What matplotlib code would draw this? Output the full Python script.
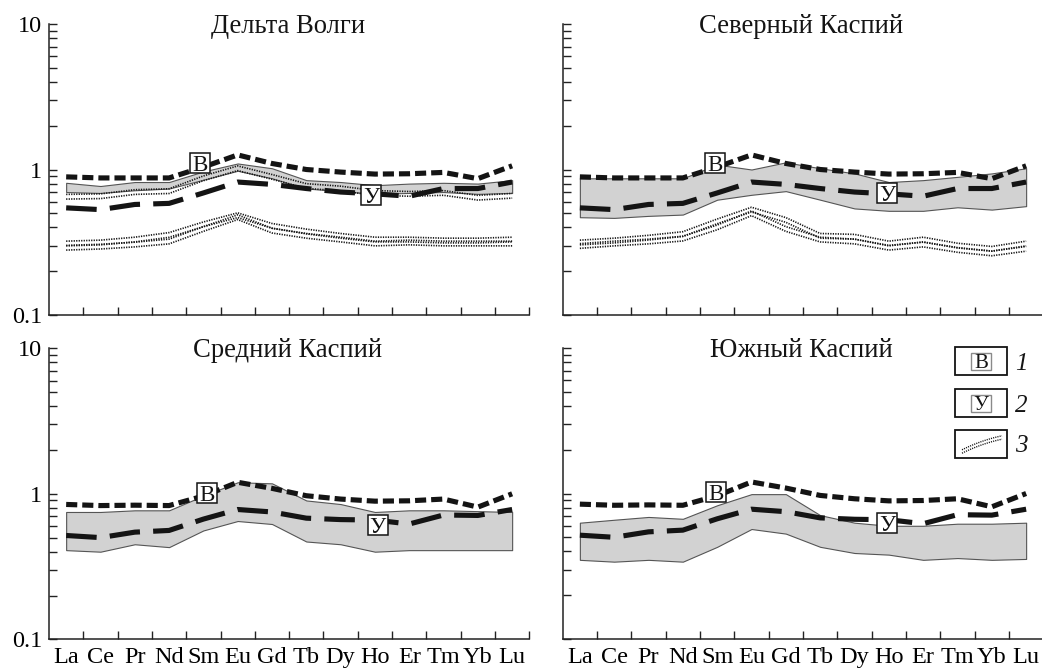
import numpy as np
import matplotlib
matplotlib.use('Agg')
import matplotlib.pyplot as plt
from matplotlib.ticker import FixedLocator, NullFormatter
from matplotlib.patches import Rectangle
from matplotlib.lines import Line2D

plt.rcParams['font.family'] = ['Liberation Serif', 'DejaVu Serif']
plt.rcParams['lines.scale_dashes'] = False

# ---------------- data ----------------
elements = ['La', 'Ce', 'Pr', 'Nd', 'Sm', 'Eu', 'Gd', 'Tb', 'Dy', 'Ho', 'Er', 'Tm', 'Yb', 'Lu']
titles = ['Дельта Волги', 'Северный Каспий', 'Средний Каспий', 'Южный Каспий']

# reference line "В" (upper row / lower row panels)
v_top = [0.89, 0.875, 0.875, 0.875, 1.04, 1.26, 1.10, 1.00, 0.96, 0.93, 0.935, 0.955, 0.865, 1.06]
v_bot = [0.845, 0.83, 0.835, 0.83, 0.965, 1.20, 1.09, 0.97, 0.92, 0.89, 0.895, 0.92, 0.81, 1.00]
# reference line "У"
u_top = [0.545, 0.53, 0.575, 0.585, 0.69, 0.82, 0.79, 0.74, 0.70, 0.68, 0.655, 0.74, 0.74, 0.82]
u_bot = [0.517, 0.50, 0.545, 0.56, 0.67, 0.78, 0.75, 0.68, 0.665, 0.66, 0.62, 0.715, 0.71, 0.78]

# grey ranges (lower, upper) per panel
band1_lo = [0.70, 0.69, 0.72, 0.74, 0.85, 0.98, 0.87, 0.74, 0.71, 0.68, 0.69, 0.70, 0.68, 0.69]
band1_hi = [0.81, 0.77, 0.82, 0.82, 0.97, 1.10, 1.02, 0.845, 0.82, 0.78, 0.80, 0.81, 0.80, 0.845]
band2_lo = [0.47, 0.465, 0.48, 0.49, 0.62, 0.67, 0.71, 0.62, 0.54, 0.52, 0.52, 0.55, 0.53, 0.56]
band2_hi = [0.87, 0.87, 0.87, 0.87, 1.08, 1.00, 1.12, 1.02, 0.94, 0.82, 0.845, 0.89, 0.94, 1.02]
band3_lo = [0.41, 0.40, 0.45, 0.43, 0.56, 0.65, 0.62, 0.47, 0.45, 0.40, 0.41, 0.41, 0.41, 0.41]
band3_hi = [0.75, 0.75, 0.77, 0.77, 0.97, 1.20, 1.18, 0.90, 0.85, 0.75, 0.77, 0.77, 0.76, 0.75]
band4_lo = [0.35, 0.34, 0.35, 0.34, 0.43, 0.57, 0.53, 0.43, 0.39, 0.38, 0.35, 0.36, 0.35, 0.355]
band4_hi = [0.63, 0.66, 0.69, 0.67, 0.83, 0.99, 0.99, 0.71, 0.63, 0.60, 0.60, 0.62, 0.62, 0.63]

# dotted "tubes" (item 3), centre lines
tube1_up = [0.65, 0.655, 0.70, 0.71, 0.87, 1.02, 0.89, 0.77, 0.74, 0.69, 0.68, 0.69, 0.64, 0.66]
tube1_a = [0.31, 0.315, 0.33, 0.355, 0.42, 0.485, 0.41, 0.375, 0.35, 0.33, 0.33, 0.325, 0.325, 0.33]
tube1_b = [0.29, 0.295, 0.305, 0.32, 0.39, 0.47, 0.38, 0.35, 0.33, 0.31, 0.315, 0.31, 0.31, 0.31]
tube2_a = [0.315, 0.325, 0.34, 0.36, 0.44, 0.53, 0.45, 0.35, 0.345, 0.31, 0.33, 0.30, 0.285, 0.31]
tube2_b = [0.298, 0.31, 0.32, 0.335, 0.40, 0.50, 0.39, 0.33, 0.32, 0.29, 0.305, 0.28, 0.265, 0.285]

# label positions (element index, value)
tag_v = [(3.9, 1.10), (3.93, 1.11), (4.1, 1.01), (3.96, 1.02)]
tag_u = [(8.9, 0.666), (8.96, 0.684), (9.08, 0.615), (8.96, 0.63)]

# ---------------- figure ----------------
W, H = 1042, 669
fig = plt.figure(figsize=(W / 100, H / 100), dpi=100)


def add_ax(left, top, right, bottom):
    return fig.add_axes([left / W, 1 - bottom / H, (right - left) / W, (bottom - top) / H])


boxes = [(49, 24, 529.3, 315), (562.7, 24, 1043.3, 315),
         (49, 348.3, 529.3, 639.3), (562.7, 348, 1043.3, 639)]
axes = [add_ax(*b) for b in boxes]

x = np.arange(len(elements))
INK = '#141414'


def tube(ax, c, k=1.038):
    c = np.asarray(c)
    for f in (k, 1 / k):
        ax.plot(x, c * f, color=INK, lw=1.2, dashes=(0.9, 0.9), zorder=3)


def tag(ax, pos, s):
    ax.plot([pos[0]], [pos[1]], marker='s', ms=14.8, mfc='white', mec=INK, mew=1.1, zorder=6)
    ax.text(pos[0], pos[1], s, ha='center', va='center_baseline', fontsize=16.5, zorder=7, color=INK)


bands = [(band1_lo, band1_hi), (band2_lo, band2_hi), (band3_lo, band3_hi), (band4_lo, band4_hi)]
vlines = [v_top, v_top, v_bot, v_bot]
ulines = [u_top, u_top, u_bot, u_bot]
tubes = [[tube1_up, tube1_a, tube1_b], [tube2_a, tube2_b], [], []]

for i, ax in enumerate(axes):
    lo, hi = bands[i]
    ax.fill_between(x, lo, hi, facecolor='#d2d2d2', edgecolor='#555555', lw=0.8, zorder=1)
    for t in tubes[i]:
        tube(ax, t)
    ax.plot(x, ulines[i], color=INK, lw=3.7, dashes=(22, 9.5), dash_capstyle='butt', zorder=4)
    ax.plot(x, vlines[i], color=INK, lw=3.7, dashes=(8, 3.6), dash_capstyle='butt', zorder=5)
    tag(ax, tag_v[i], 'В')
    tag(ax, tag_u[i], 'У')

    ax.set_yscale('log')
    ax.set_ylim(0.1, 10)
    ax.set_xlim(-0.5, 13.5)
    for s in ('top', 'right'):
        ax.spines[s].set_visible(False)
    for s in ('left', 'bottom'):
        ax.spines[s].set_color('#222222')
        ax.spines[s].set_linewidth(1.1)

    ax.yaxis.set_major_locator(FixedLocator([0.1, 1, 10]))
    ax.yaxis.set_minor_locator(FixedLocator([m * d for d in (0.1, 1) for m in range(2, 10)]))
    ax.yaxis.set_minor_formatter(NullFormatter())
    ax.set_yticklabels(['0.1', '1', '10'])
    ax.tick_params(axis='y', which='both', direction='in', length=5.5, width=1.0,
                   color='#222222', labelsize=17.5, pad=5.0)
    ax.set_xticks(x)
    ax.set_xticklabels(elements)
    ax.set_xticks(np.arange(0.5, 14, 1), minor=True)
    ax.tick_params(axis='x', which='major', length=0, labelsize=17.5, pad=5.5)
    ax.tick_params(axis='x', which='minor', direction='in', length=5.5, width=1.0, color='#222222')
    if i in (1, 3):
        ax.tick_params(axis='y', labelleft=False)
    if i in (0, 1):
        ax.tick_params(axis='x', labelbottom=False)
    ax.text(0.497, 0.969, titles[i], transform=ax.transAxes, ha='center', va='baseline',
            fontsize=19.2, color=INK)

# ---------------- legend (in panel 4) ----------------
def fx(px):
    return px / W


def fy(py):
    return 1 - py / H


for k, (top, bot) in enumerate([(347, 375), (389, 417), (430, 458)]):
    fig.add_artist(Rectangle((fx(955), fy(bot)), (1007 - 955) / W, (bot - top) / H,
                             transform=fig.transFigure, fill=False, ec=INK, lw=1.3))
    fig.text(fx(1021.5), fy((top + bot) / 2), str(k + 1), style='italic', fontsize=18,
             ha='center', va='center_baseline', color=INK)
    if k < 2:
        cy = (top + bot) / 2
        fig.add_artist(Rectangle((fx(971), fy(cy + 8.5)), 20 / W, 17 / H,
                                 transform=fig.transFigure, fill=False, ec='#8a8a8a', lw=1.0))
        fig.text(fx(981), fy(cy), ['В', 'У'][k], fontsize=15, ha='center',
                 va='center_baseline', color=INK)

tt = np.linspace(0, 1, 20)
lx = 962 + 40 * tt
ly = 451.5 - 14 * (1.4 * tt - 0.4 * tt ** 2)
for off in (-1.7, 1.7):
    fig.add_artist(Line2D(fx(lx), fy(ly + off), transform=fig.transFigure, color=INK,
                          lw=1.0, dashes=(0.8, 0.8)))

fig.savefig('out.png', dpi=100)
